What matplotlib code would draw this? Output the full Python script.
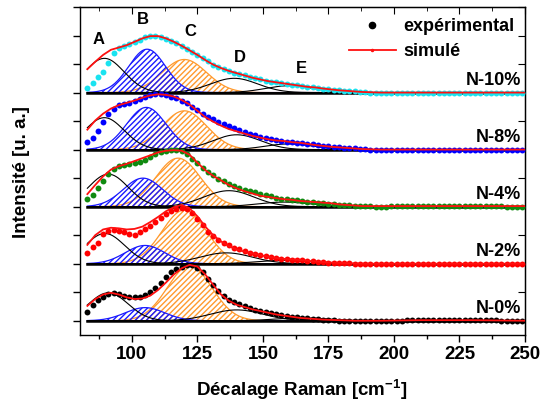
import numpy as np
import matplotlib
matplotlib.use("Agg")
import matplotlib.pyplot as plt
from matplotlib.lines import Line2D
from matplotlib.ticker import MultipleLocator

plt.rcParams['font.family'] = ['Liberation Sans', 'DejaVu Sans']
plt.rcParams['font.weight'] = 'bold'
plt.rcParams['mathtext.fontset'] = 'custom'
plt.rcParams['mathtext.rm'] = 'Liberation Sans:bold'
plt.rcParams['mathtext.bf'] = 'Liberation Sans:bold'
plt.rcParams['mathtext.default'] = 'bf'
plt.rcParams['hatch.linewidth'] = 1.0

# ---------------- data ----------------
spectra = ['N-10%', 'N-8%', 'N-4%', 'N-2%', 'N-0%']
offsets = [4, 3, 2, 1, 0]
dot_colors = ['#19e3f0', '#0000ff', '#108a10', '#ff0000', '#000000']

# fitted peak components (centre, height, width) for each spectrum
A_center = [89.5, 89.5, 91.0, 89.7, 91.0]
A_height = [0.60, 0.56, 0.57, 0.53, 0.49]
A_sigma = [7.5, 7.5, 7.5, 7.5, 7.5]
B_center = [105.8, 105.5, 104.2, 105.0, 105.0]
B_height = [0.76, 0.74, 0.50, 0.32, 0.23]
B_sigma = [7.0, 7.5, 7.5, 7.5, 7.5]
C_center = [120.0, 120.0, 117.6, 120.0, 122.0]
C_height = [0.58, 0.68, 0.85, 0.94, 0.96]
C_sigma = [8.5, 8.5, 8.5, 8.5, 8.5]
D_center = [139.0, 140.0, 137.0, 136.0, 140.0]
D_height = [0.25, 0.26, 0.28, 0.19, 0.19]
D_sigma = [9.0, 9.0, 9.5, 10.0, 10.0]
E_center = [160.0, 160.0, 158.0, 158.0, 165.0]
E_height = [0.12, 0.10, 0.08, 0.06, 0.05]
E_sigma = [9.0, 9.0, 10.0, 10.0, 10.0]

# simulated (fit) curves
x_fit = [83, 86, 89, 92, 95, 98, 101, 104, 107, 110,
         113, 116, 119, 122, 125, 128, 131, 134, 137, 140,
         143, 146, 149, 152, 155, 158, 161, 164, 167, 170,
         173, 176, 179, 182, 185, 188, 195, 210, 230, 250]
fit_n10 = [0.41, 0.54, 0.66, 0.75, 0.79, 0.83, 0.89, 0.95, 0.99, 0.99,
           0.95, 0.89, 0.82, 0.74, 0.66, 0.57, 0.49, 0.43, 0.38, 0.34,
           0.30, 0.26, 0.23, 0.20, 0.18, 0.16, 0.14, 0.12, 0.10, 0.09,
           0.07, 0.055, 0.04, 0.03, 0.02, 0.01, 0.0, 0.0, 0.0, 0.0]
fit_n8 = [0.35, 0.51, 0.63, 0.72, 0.78, 0.82, 0.86, 0.91, 0.95, 0.97,
          0.96, 0.93, 0.87, 0.79, 0.68, 0.57, 0.49, 0.42, 0.36, 0.32,
          0.28, 0.24, 0.21, 0.18, 0.16, 0.15, 0.13, 0.12, 0.10, 0.08,
          0.065, 0.05, 0.04, 0.03, 0.02, 0.01, 0.0, 0.0, 0.0, 0.0]
fit_n4 = [0.22, 0.38, 0.53, 0.65, 0.71, 0.75, 0.80, 0.85, 0.90, 0.95,
          0.98, 0.99, 0.98, 0.91, 0.77, 0.64, 0.54, 0.46, 0.38, 0.32,
          0.27, 0.23, 0.19, 0.17, 0.15, 0.13, 0.12, 0.10, 0.09, 0.08,
          0.07, 0.06, 0.04, 0.03, 0.02, 0.01, 0.01, 0.01, 0.01, 0.01]
fit_n2 = [0.33, 0.50, 0.60, 0.63, 0.62, 0.60, 0.61, 0.65, 0.73, 0.82,
          0.92, 0.99, 1.03, 0.97, 0.83, 0.65, 0.50, 0.39, 0.31, 0.25,
          0.21, 0.18, 0.15, 0.12, 0.10, 0.085, 0.075, 0.065, 0.05, 0.04,
          0.03, 0.02, 0.015, 0.01, 0.005, 0.0, 0.0, 0.0, 0.0, 0.0]
fit_n0 = [0.26, 0.38, 0.46, 0.49, 0.46, 0.41, 0.38, 0.39, 0.44, 0.54,
          0.67, 0.81, 0.92, 0.98, 0.95, 0.81, 0.63, 0.46, 0.35, 0.28,
          0.24, 0.20, 0.17, 0.14, 0.11, 0.09, 0.07, 0.05, 0.04, 0.03,
          0.02, 0.015, 0.01, 0.005, 0.0, 0.0, 0.0, 0.01, 0.01, 0.0]

# experimental points
x_exp = [83, 85, 87, 89, 91, 93, 95, 97, 99, 101,
         103, 105, 107, 109, 111, 113, 115, 117, 119, 121,
         123, 125, 127, 129, 131, 133, 135, 137, 139, 141,
         143, 145, 147, 149, 151, 153, 155, 157, 159, 161,
         163, 165, 167, 169, 171, 173, 175, 177, 179, 181,
         183, 185, 187, 189, 191, 193, 195, 197, 199, 201,
         203, 205, 207, 209, 211, 213, 215, 217, 219, 221,
         223, 225, 227, 229, 231, 233, 235, 237, 239, 241,
         243, 245, 247, 249]
exp_n10 = [0.08, 0.17, 0.27, 0.36, 0.52, 0.70, 0.78, 0.81, 0.85, 0.89,
           0.93, 0.97, 0.99, 0.99, 0.97, 0.94, 0.91, 0.87, 0.82, 0.77,
           0.71, 0.66, 0.60, 0.55, 0.49, 0.45, 0.41, 0.38, 0.35, 0.33,
           0.30, 0.27, 0.25, 0.23, 0.21, 0.19, 0.18, 0.17, 0.15, 0.14,
           0.13, 0.12, 0.10, 0.09, 0.08, 0.07, 0.06, 0.05, 0.04, 0.03,
           0.02, 0.02, 0.01, 0.01, 0.0, -0.01, -0.01, -0.01, -0.01, -0.01,
           -0.01, -0.01, -0.01, 0.0, 0.0, 0.0, 0.0, 0.0, 0.0, 0.0,
           0.0, 0.0, 0.0, 0.0, 0.0, 0.0, 0.0, 0.0, 0.0, 0.0,
           0.0, 0.0, 0.0, 0.0]
exp_n8 = [0.13, 0.21, 0.33, 0.48, 0.62, 0.72, 0.78, 0.80, 0.82, 0.86,
          0.89, 0.93, 0.96, 0.97, 0.97, 0.95, 0.93, 0.90, 0.86, 0.81,
          0.75, 0.69, 0.63, 0.57, 0.53, 0.49, 0.45, 0.41, 0.38, 0.35,
          0.31, 0.28, 0.25, 0.22, 0.20, 0.18, 0.16, 0.15, 0.14, 0.13,
          0.12, 0.11, 0.10, 0.09, 0.08, 0.07, 0.06, 0.05, 0.04, 0.03,
          0.02, 0.02, 0.01, 0.01, 0.0, 0.0, -0.01, -0.01, -0.01, -0.01,
          -0.01, -0.01, -0.01, -0.01, 0.0, 0.0, 0.0, 0.0, 0.0, 0.0,
          0.0, 0.0, 0.0, 0.0, 0.0, 0.0, 0.0, 0.0, 0.0, 0.0,
          0.0, 0.0, 0.0, 0.0]
exp_n4 = [0.13, 0.20, 0.33, 0.45, 0.58, 0.66, 0.71, 0.73, 0.75, 0.76,
          0.78, 0.82, 0.87, 0.92, 0.95, 0.97, 0.99, 0.99, 0.98, 0.93,
          0.84, 0.76, 0.68, 0.61, 0.55, 0.49, 0.45, 0.40, 0.36, 0.33,
          0.29, 0.27, 0.25, 0.22, 0.20, 0.18, 0.16, 0.14, 0.13, 0.12,
          0.11, 0.10, 0.09, 0.08, 0.07, 0.06, 0.05, 0.04, 0.035, 0.03,
          0.03, 0.02, 0.02, 0.01, 0.01, 0.0, 0.0, 0.0, 0.01, 0.01,
          0.01, 0.01, 0.01, 0.01, 0.01, 0.01, 0.01, 0.01, 0.01, 0.01,
          0.01, 0.01, 0.01, 0.01, 0.01, 0.01, 0.01, 0.01, 0.01, 0.01,
          0.0, 0.0, 0.0, 0.0]
exp_n2 = [0.18, 0.29, 0.37, 0.52, 0.57, 0.59, 0.58, 0.55, 0.52, 0.51,
          0.55, 0.60, 0.66, 0.73, 0.80, 0.87, 0.92, 0.96, 0.98, 0.96,
          0.89, 0.78, 0.67, 0.56, 0.48, 0.42, 0.36, 0.32, 0.28, 0.25,
          0.22, 0.19, 0.17, 0.15, 0.13, 0.11, 0.10, 0.09, 0.08, 0.07,
          0.065, 0.06, 0.05, 0.04, 0.035, 0.03, 0.02, 0.02, 0.01, 0.01,
          0.01, 0.0, 0.0, 0.0, 0.0, 0.0, 0.0, 0.0, 0.0, 0.0,
          0.0, 0.0, 0.0, 0.0, 0.0, 0.0, 0.0, 0.0, 0.0, 0.0,
          0.0, 0.0, 0.0, 0.0, 0.0, 0.0, 0.0, 0.0, 0.0, 0.0,
          0.0, 0.0, 0.0, 0.0]
exp_n0 = [0.16, 0.28, 0.36, 0.42, 0.47, 0.49, 0.47, 0.44, 0.42, 0.41,
          0.42, 0.45, 0.50, 0.58, 0.67, 0.76, 0.85, 0.91, 0.95, 0.98,
          0.98, 0.93, 0.85, 0.74, 0.62, 0.52, 0.43, 0.37, 0.32, 0.29,
          0.26, 0.22, 0.19, 0.17, 0.15, 0.13, 0.11, 0.10, 0.08, 0.07,
          0.06, 0.05, 0.04, 0.03, 0.025, 0.02, 0.015, 0.01, 0.0, 0.0,
          0.0, 0.0, 0.0, 0.0, 0.0, 0.0, 0.0, 0.0, 0.0, 0.0,
          0.0, 0.01, 0.01, 0.01, 0.01, 0.01, 0.01, 0.01, 0.01, 0.01,
          0.01, 0.01, 0.01, 0.01, 0.01, 0.01, 0.01, 0.01, 0.01, 0.0,
          0.0, 0.0, 0.0, 0.0]

fits = [fit_n10, fit_n8, fit_n4, fit_n2, fit_n0]
exps = [exp_n10, exp_n8, exp_n4, exp_n2, exp_n0]

peak_labels = ['A', 'B', 'C', 'D', 'E']
peak_label_x = [87.2, 104.1, 122.4, 141.3, 164.5]
peak_label_y = [4.93, 5.28, 5.07, 4.62, 4.42]

# ---------------- plot ----------------
fig = plt.figure(figsize=(5.42, 4.05), dpi=100)
ax = fig.add_axes([79.5 / 542, 1 - 335 / 405, (525 - 79.5) / 542, (335 - 7) / 405])


def gauss(x, c, h, s):
    return h * np.exp(-0.5 * ((x - c) / s) ** 2)


xs = np.linspace(x_exp[0], 250, 700)
blue = '#1a1aff'
orange = '#ff9a2e'

for i in range(5):
    off = offsets[i]
    yC = off + gauss(xs, C_center[i], C_height[i], C_sigma[i])
    yB = off + gauss(xs, B_center[i], B_height[i], B_sigma[i])
    yA = off + gauss(xs, A_center[i], A_height[i], A_sigma[i])
    yD = off + gauss(xs, D_center[i], D_height[i], D_sigma[i])
    yE = off + gauss(xs, E_center[i], E_height[i], E_sigma[i])
    ax.fill_between(xs, off, yC, facecolor='none', edgecolor=orange,
                    hatch='//////', linewidth=0, zorder=2)
    ax.plot(xs, yC, color=orange, lw=0.9, zorder=2.1)
    ax.fill_between(xs, off, yB, facecolor='none', edgecolor=blue,
                    hatch='//////', linewidth=0, zorder=2.2)
    ax.plot(xs, yB, color=blue, lw=0.9, zorder=2.3)
    for yy in (yA, yD, yE):
        ax.plot(xs, yy, color='black', lw=0.8, zorder=2.4)
    ax.plot([x_exp[0], 250], [off, off], color='black', lw=1.8, zorder=2.5)
    ax.scatter(x_exp, np.array(exps[i]) + off, s=18, color=dot_colors[i],
               linewidths=0, zorder=3)
    ax.plot(x_fit, np.array(fits[i]) + off, color='#ff1010', lw=1.3, zorder=4)
    ax.text(248.5, off + 0.14, spectra[i], ha='right', va='baseline',
            fontsize=13, fontweight='bold', zorder=5)

for lab, lx, ly in zip(peak_labels, peak_label_x, peak_label_y):
    ax.text(lx, ly, lab, ha='center', va='center', fontsize=12,
            fontweight='bold', zorder=5)

ax.set_xlim(80, 250)
ax.set_ylim(-0.25, 5.5)
ax.xaxis.set_major_locator(MultipleLocator(25))
ax.xaxis.set_minor_locator(MultipleLocator(12.5))
ax.yaxis.set_major_locator(MultipleLocator(0.5))
ax.tick_params(axis='x', which='major', direction='out', length=5, width=1,
               labelsize=13.5, pad=3)
ax.tick_params(axis='x', which='minor', direction='out', length=3, width=1)
ax.tick_params(axis='y', which='major', direction='out', length=5, width=1,
               labelleft=False)
for lbl in ax.get_xticklabels():
    lbl.set_fontweight('bold')
for sp in ax.spines.values():
    sp.set_linewidth(1.0)

top = ax.secondary_xaxis('top')
top.xaxis.set_major_locator(MultipleLocator(25))
top.xaxis.set_minor_locator(MultipleLocator(12.5))
top.tick_params(axis='x', which='both', direction='in', labeltop=False)
top.tick_params(axis='x', which='major', length=5)
top.tick_params(axis='x', which='minor', length=3)
right = ax.secondary_yaxis('right')
right.yaxis.set_major_locator(MultipleLocator(0.5))
right.tick_params(axis='y', direction='in', length=5, labelright=False)

handles = [Line2D([], [], marker='o', color='black', ls='none', markersize=4.5),
           Line2D([], [], marker='.', color='#ff1010', lw=1.3, markersize=3)]
ax.legend(handles, ['expérimental', 'simulé'], loc='upper right',
          bbox_to_anchor=(1.0, 1.0), frameon=False,
          handlelength=2.6, labelspacing=0.45, borderaxespad=0.2,
          handletextpad=0.4, prop={'weight': 'bold', 'size': 13})

fig.text(302 / 542, 1 - 390 / 405, 'Décalage Raman [cm$^{-1}$]', ha='center',
         va='center', fontsize=13.5, fontweight='bold')
fig.text(22 / 542, 1 - 172 / 405, 'Intensité [u. a.]', ha='center',
         va='center', rotation=90, fontsize=13.5, fontweight='bold')

fig.savefig('out.png', dpi=100)
